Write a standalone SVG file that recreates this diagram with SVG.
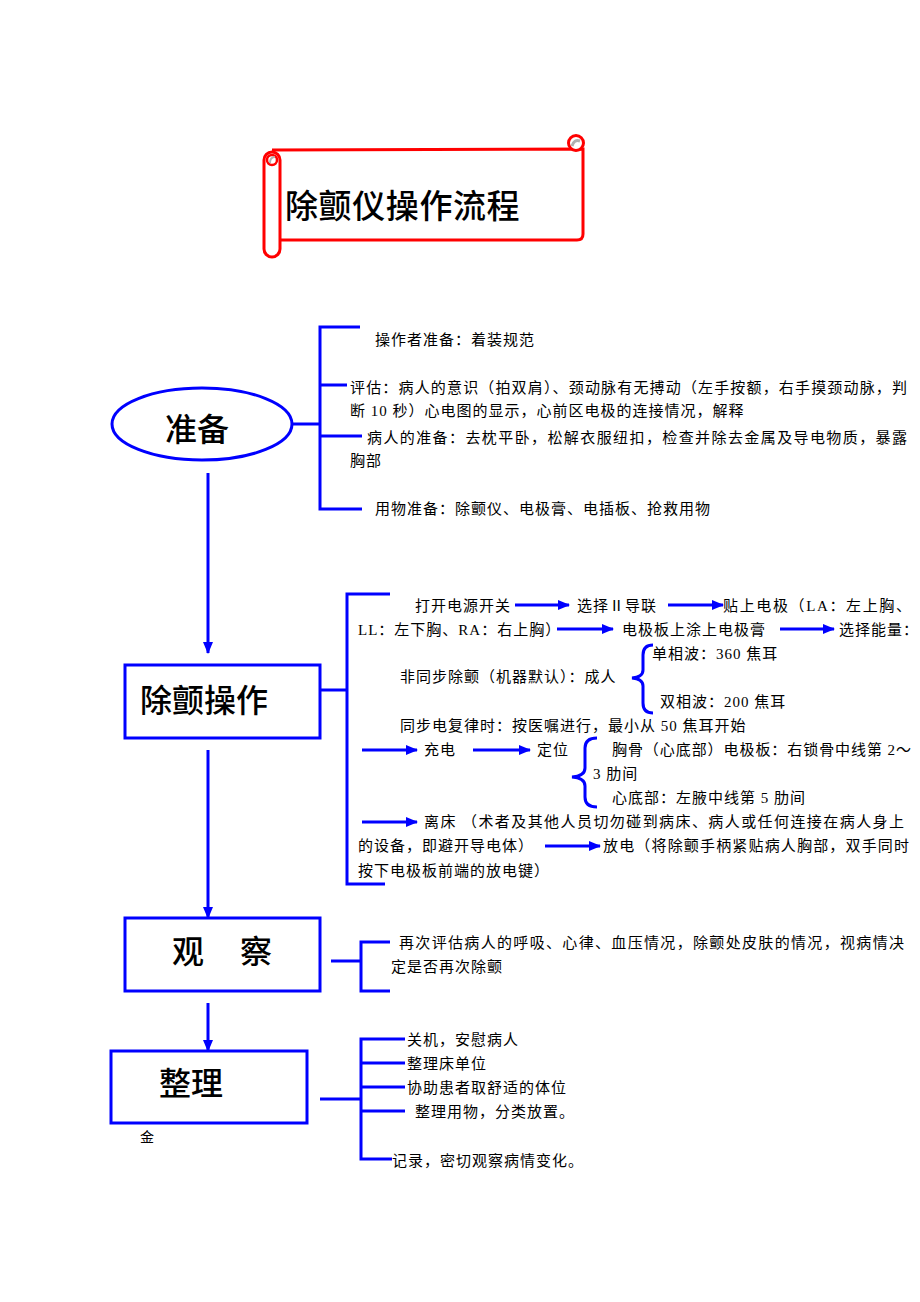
<svg xmlns="http://www.w3.org/2000/svg" width="920" height="1302" viewBox="0 0 920 1302">
<style>
.b{fill:none;stroke:#0000ff;stroke-width:3}
.node{fill:#fff;stroke:#0000ff;stroke-width:3}
.t{font-family:"Liberation Serif","Noto Sans CJK SC",serif;font-size:15px;letter-spacing:1px;fill:#000}
.h{font-family:"Noto Sans CJK SC",sans-serif;font-size:32px;font-weight:500;fill:#000}
.red{fill:#fff;stroke:#ff0000;stroke-width:3}
</style>
<defs>
<marker id="ah" markerUnits="userSpaceOnUse" markerWidth="12" markerHeight="10" refX="11" refY="5" orient="auto">
<path d="M0,0 L12,5 L0,10 Z" fill="#0000ff"/>
</marker>
</defs>
<rect width="920" height="1302" fill="#fff"/>

<g id="title">
<path class="red" d="M272,150 L583,149 L583,234 Q583,240 577,240 L280,240"/>
<circle cx="576" cy="143" r="7.5" class="red"/>
<path d="M572,146 Q574,139 580,141" fill="none" stroke="#b0b0b0" stroke-width="3"/>
<rect x="264" y="152" width="16" height="105" rx="8" class="red"/>
<circle cx="272" cy="160" r="5" fill="#fff" stroke="#ff0000" stroke-width="2.5"/>
<path d="M270,163 Q270,157 275,157" fill="none" stroke="#b0b0b0" stroke-width="2"/>
<text x="285" y="218" font-family="'Noto Sans CJK SC',sans-serif" font-size="33" font-weight="500" letter-spacing="0.6" fill="#000">除颤仪操作流程</text>
</g>

<g id="node-prepare">
<ellipse cx="202" cy="424" rx="90" ry="36" class="node"/>
<text x="165" y="441" class="h">准备</text>
</g>

<g id="node-operate">
<rect x="125" y="665" width="195" height="73" class="node"/>
<text x="140" y="712" class="h">除颤操作</text>
</g>

<g id="node-observe">
<rect x="125" y="918" width="195" height="73" class="node"/>
<text x="172" y="963" class="h">观</text>
<text x="240" y="963" class="h">察</text>
</g>

<g id="node-tidy">
<rect x="111" y="1051" width="196" height="72" class="node"/>
<text x="159" y="1095" class="h">整理</text>
<text x="140" y="1142" font-family="'Noto Sans CJK SC',sans-serif" font-size="14" fill="#000">金</text>
</g>

<g id="connectors">
<line x1="208" y1="473" x2="208" y2="653" class="b" marker-end="url(#ah)"/>
<line x1="208" y1="750" x2="208" y2="918" class="b" marker-end="url(#ah)"/>
<line x1="208" y1="1003" x2="208" y2="1051" class="b" marker-end="url(#ah)"/>

<line x1="292" y1="424" x2="320" y2="424" class="b"/>
<path class="b" d="M360,327 H320 V509 H362 M320,385 H347 M320,436 H362"/>

<line x1="320" y1="690" x2="347" y2="690" class="b"/>
<path class="b" d="M390,594 H347 V884 H385"/>

<line x1="331" y1="961" x2="361" y2="961" class="b"/>
<path class="b" d="M390,942 H361 V991 H390"/>

<line x1="320" y1="1099" x2="361" y2="1099" class="b"/>
<path class="b" d="M405,1039 H361 V1159 H392 M361,1063 H405 M361,1087 H405 M361,1111 H405"/>

<line x1="515" y1="605" x2="569" y2="605" class="b" marker-end="url(#ah)"/>
<line x1="668" y1="605" x2="723" y2="605" class="b" marker-end="url(#ah)"/>
<line x1="557" y1="629" x2="613" y2="629" class="b" marker-end="url(#ah)"/>
<line x1="780" y1="629" x2="834" y2="629" class="b" marker-end="url(#ah)"/>
<line x1="362" y1="750" x2="417" y2="750" class="b" marker-end="url(#ah)"/>
<line x1="473" y1="750" x2="530" y2="750" class="b" marker-end="url(#ah)"/>
<line x1="362" y1="822" x2="417" y2="822" class="b" marker-end="url(#ah)"/>
<line x1="545" y1="846" x2="600" y2="846" class="b" marker-end="url(#ah)"/>

<path class="b" d="M653,645 Q643,645 643,655 V670 Q643,677 632,678 Q643,679 643,686 V703 Q643,713 653,713"/>
<path class="b" d="M597,738 Q585,738 585,748 V768 Q585,776 572,777 Q585,778 585,786 V797 Q585,807 597,807"/>
</g>

<g id="labels">
<text x="375" y="345" class="t">操作者准备：着装规范</text>
<text x="350" y="393" class="t" textLength="558" lengthAdjust="spacing">评估：病人的意识（拍双肩）、颈动脉有无搏动（左手按额，右手摸颈动脉，判</text>
<text x="350" y="416" class="t">断 10 秒）心电图的显示，心前区电极的连接情况，解释</text>
<text x="367" y="443" class="t" textLength="541" lengthAdjust="spacing">病人的准备：去枕平卧，松解衣服纽扣，检查并除去金属及导电物质，暴露</text>
<text x="350" y="466" class="t">胸部</text>
<text x="375" y="514" class="t">用物准备：除颤仪、电极膏、电插板、抢救用物</text>

<text x="415" y="611" class="t">打开电源开关</text>
<text x="577" y="611" class="t">选择Ⅱ导联</text>
<text x="723" y="611" class="t" textLength="189" lengthAdjust="spacing">贴上电极（LA：左上胸、</text>
<text x="358" y="635" class="t">LL：左下胸、RA：右上胸）</text>
<text x="622" y="635" class="t">电极板上涂上电极膏</text>
<text x="839" y="635" class="t">选择能量：</text>
<text x="652" y="659" class="t">单相波：360 焦耳</text>
<text x="400" y="682" class="t">非同步除颤（机器默认）：成人</text>
<text x="660" y="707" class="t">双相波：200 焦耳</text>
<text x="400" y="731" class="t">同步电复律时：按医嘱进行，最小从 50 焦耳开始</text>
<text x="424" y="755" class="t">充电</text>
<text x="537" y="755" class="t">定位</text>
<text x="612" y="755" class="t" textLength="300" lengthAdjust="spacing">胸骨（心底部）电极板：右锁骨中线第 2～</text>
<text x="593" y="779" class="t">3 肋间</text>
<text x="612" y="803" class="t">心底部：左腋中线第 5 肋间</text>
<text x="424" y="827" class="t" textLength="481" lengthAdjust="spacing">离床 （术者及其他人员切勿碰到病床、病人或任何连接在病人身上</text>
<text x="358" y="851" class="t">的设备，即避开导电体）</text>
<text x="603" y="851" class="t" textLength="307" lengthAdjust="spacing">放电（将除颤手柄紧贴病人胸部，双手同时</text>
<text x="358" y="876" class="t">按下电极板前端的放电键）</text>

<text x="399" y="948" class="t" textLength="506" lengthAdjust="spacing">再次评估病人的呼吸、心律、血压情况，除颤处皮肤的情况，视病情决</text>
<text x="391" y="972" class="t">定是否再次除颤</text>

<text x="407" y="1045" class="t">关机，安慰病人</text>
<text x="407" y="1069" class="t">整理床单位</text>
<text x="407" y="1093" class="t">协助患者取舒适的体位</text>
<text x="415" y="1117" class="t">整理用物，分类放置。</text>
<text x="392" y="1166" class="t">记录，密切观察病情变化。</text>
</g>
</svg>
